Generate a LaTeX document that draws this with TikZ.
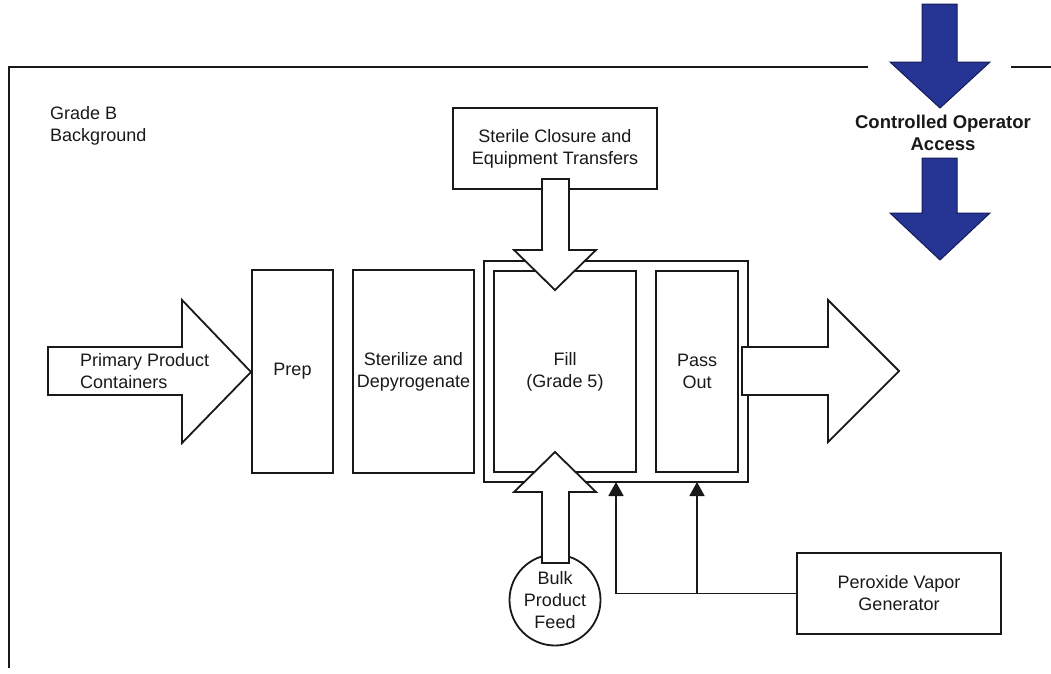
\documentclass[tikz,border=0pt]{standalone}
\usepackage{fontspec}
\setmainfont{Liberation Sans}
\usetikzlibrary{arrows.meta}
\definecolor{opblue}{RGB}{38,52,148}
\definecolor{opblueline}{RGB}{20,28,90}
\definecolor{ink}{RGB}{25,25,25}
\begin{document}
\begin{tikzpicture}[x=1pt,y=-1pt, line width=1.8pt, draw=ink, text=ink,
  box/.style={draw=ink, fill=white, inner sep=0pt, line width=1.8pt},
  lbl/.style={font=\fontsize{18}{22}\selectfont, align=center},
  fatarrow/.style={draw=ink, fill=white, line width=1.8pt, line join=miter},
  bluearrow/.style={draw=opblueline, fill=opblue, line width=1pt, line join=miter},
  feed/.style={draw=ink, line width=1.8pt, -{Triangle[width=15pt,length=14pt]}}]
\useasboundingbox (0,0) rectangle (1051,673);

% outer frame (Grade B background)
\draw (868,67) -- (9,67) -- (9,668);
\draw (1011,67) -- (1051,67);
\node[lbl, align=left, anchor=west] (gradeb) at (46,126) {Grade B\\Background};

% controlled operator access
\draw[bluearrow] (922,4) -- (957,4) -- (957,62) -- (990,62) -- (940,108) -- (890,62) -- (922,62) -- cycle;
\node[lbl, font=\fontsize{18.5}{22}\selectfont\bfseries] (coa) at (943,133) {Controlled Operator\\Access};
\draw[bluearrow] (922,158) -- (957,158) -- (957,213) -- (990,213) -- (940,260) -- (890,213) -- (922,213) -- cycle;

% sterile closure box
\node[box, lbl, minimum width=204pt, minimum height=81pt] (scet) at (555,148.5) {Sterile Closure and\\Equipment Transfers};

% process boxes
\node[box, lbl, minimum width=81pt, minimum height=203pt] (prep) at (292.5,371.5) {Prep};
\node[box, lbl, minimum width=121pt, minimum height=203pt] (ster) at (413.5,371.5) {Sterilize and\\Depyrogenate};
\node[box, minimum width=264pt, minimum height=221pt] (iso) at (616,371.5) {};
\node[box, lbl, minimum width=142pt, minimum height=201pt] (fill) at (565,371.5) {Fill\\(Grade 5)};
\node[box, lbl, minimum width=82pt, minimum height=201pt] (pass) at (697,371.5) {Pass\\Out};

% primary product containers arrow
\draw[fatarrow] (48,347) -- (182,347) -- (182,300) -- (251,372) -- (182,443) -- (182,395) -- (48,395) -- cycle;
\node[lbl, align=left, anchor=west] (ppc) at (76,371) {Primary Product\\Containers};

% outgoing arrow
\draw[fatarrow] (742,347) -- (828,347) -- (828,300) -- (899,371) -- (828,442) -- (828,395) -- (742,395) -- cycle;

% sterile closure transfer arrow
\draw[fatarrow] (542,179) -- (569,179) -- (569,250) -- (596,250) -- (555,290) -- (514,250) -- (542,250) -- cycle;

% bulk product feed
\node[draw=ink, fill=white, circle, minimum size=91pt, inner sep=0pt, lbl] (bulk) at (555,600) {\rule{0pt}{14pt}Bulk\\Product\\Feed};
\draw[fatarrow] (542,563) -- (569,563) -- (569,492) -- (596,492) -- (555,452) -- (514,492) -- (542,492) -- cycle;

% peroxide vapor generator
\node[box, lbl, minimum width=204pt, minimum height=81pt] (pvg) at (899,593.5) {Peroxide Vapor\\Generator};
\coordinate (e1) at (616,482);
\coordinate (e2) at (697,482);
\draw[feed] (pvg.west) -| (e1);
\draw[feed] (pvg.west -| e2) -- (e2);
\end{tikzpicture}
\end{document}
